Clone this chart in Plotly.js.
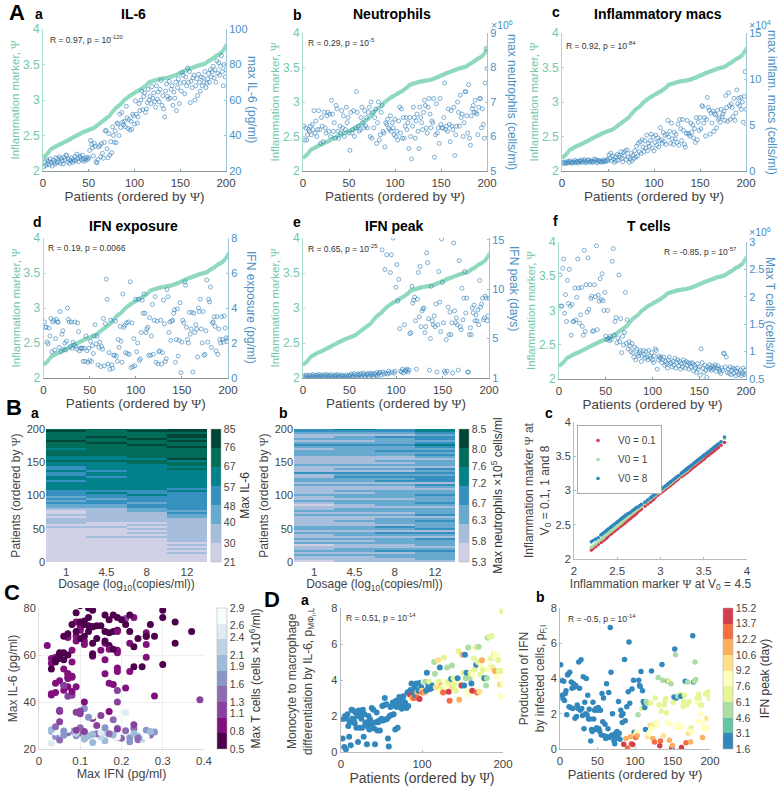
<!DOCTYPE html>
<html><head><meta charset="utf-8">
<script src="https://cdn.plot.ly/plotly-3.0.1.min.js"></script>
<style>html,body{margin:0;padding:0;background:#fff}</style></head><body>
<div id="chart" style="width:782px;height:786px"></div>
<script>
const psi=[2.20,2.21,2.22,2.23,2.25,2.26,2.28,2.30,2.31,2.32,2.32,2.33,2.34,2.35,2.35,2.36,2.37,2.37,2.38,2.38,
2.39,2.40,2.40,2.41,2.42,2.42,2.43,2.44,2.44,2.45,2.46,2.47,2.47,2.48,2.49,2.49,2.50,2.51,2.51,2.52,
2.53,2.53,2.54,2.55,2.55,2.56,2.56,2.57,2.57,2.58,2.58,2.59,2.59,2.60,2.60,2.61,2.62,2.63,2.64,2.65,
2.66,2.67,2.68,2.69,2.70,2.71,2.72,2.73,2.74,2.75,2.76,2.77,2.78,2.80,2.82,2.83,2.85,2.86,2.88,2.89,
2.90,2.91,2.92,2.93,2.94,2.96,2.97,2.99,3.00,3.01,3.02,3.03,3.04,3.05,3.06,3.07,3.08,3.08,3.09,3.10,
3.11,3.12,3.12,3.13,3.14,3.15,3.15,3.16,3.17,3.18,3.19,3.20,3.21,3.22,3.24,3.25,3.25,3.26,3.26,3.27,
3.27,3.27,3.28,3.28,3.29,3.29,3.29,3.30,3.30,3.30,3.30,3.31,3.31,3.31,3.31,3.31,3.32,3.32,3.32,3.33,
3.33,3.34,3.34,3.35,3.35,3.36,3.36,3.37,3.38,3.38,3.39,3.39,3.40,3.41,3.41,3.42,3.42,3.43,3.43,3.44,
3.44,3.45,3.45,3.46,3.46,3.47,3.47,3.48,3.48,3.49,3.49,3.49,3.50,3.50,3.50,3.51,3.51,3.52,3.53,3.54,
3.55,3.56,3.56,3.57,3.58,3.59,3.60,3.61,3.62,3.63,3.63,3.64,3.65,3.66,3.67,3.68,3.70,3.72,3.74,3.77];
const il6=[22.5,25.3,23.1,26.2,24.0,25.6,23.5,26.8,24.9,22.8,26.1,25.0,23.8,27.5,24.6,26.9,25.2,28.0,24.3,27.2,
25.8,23.9,27.6,26.3,29.0,28.7,25.1,26.5,24.2,25.9,27.3,24.8,26.4,25.5,28.2,26.0,29.5,27.1,25.3,28.4,
27.8,26.2,28.9,26.7,25.4,27.0,26.1,27.7,26.6,27.4,31.6,37.2,35.0,33.0,28.5,35.6,34.0,25.2,24.6,26.5,
33.5,34.3,28.0,35.5,30.0,27.2,36.1,42.5,42.9,32.5,27.5,41.0,29.0,36.5,30.3,44.9,40.0,36.2,42.6,36.0,
47.0,46.5,40.0,52.0,44.5,53.0,47.5,46.0,48.0,45.0,56.5,50.0,44.0,49.0,43.0,48.0,43.5,52.0,51.0,46.5,
59.5,52.0,47.0,50.5,58.0,54.0,60.0,65.0,54.5,62.0,64.0,53.0,55.0,58.5,66.0,60.0,62.0,58.0,67.5,61.0,
64.0,59.0,56.0,68.0,60.5,64.5,59.0,66.0,71.0,57.0,62.5,55.0,50.5,65.0,69.0,62.0,60.5,70.5,61.0,66.0,
68.0,57.0,64.5,61.0,70.0,54.0,67.0,72.0,58.0,69.5,65.0,75.5,74.0,70.0,63.5,73.0,68.0,78.0,70.0,76.0,
58.5,70.5,67.0,72.5,74.0,60.0,68.0,72.0,62.5,74.5,70.0,65.0,73.0,68.0,72.5,70.0,76.0,67.0,69.5,72.0,
75.0,70.0,77.0,73.0,76.0,79.0,72.5,77.0,70.0,82.0,75.0,81.0,74.0,79.0,85.0,76.0,68.0,80.0,73.0,77.0];
const neutro=[6.30,5.90,6.25,5.90,6.05,6.20,6.15,6.30,6.05,6.35,6.20,6.75,6.10,6.45,6.00,6.20,6.75,6.20,5.80,6.55,
6.30,5.85,6.70,6.25,6.10,6.60,6.70,6.15,6.65,6.00,7.05,6.65,6.15,6.40,5.95,6.90,6.80,6.15,5.95,6.30,
6.10,6.75,6.25,6.60,6.00,6.20,6.85,6.40,6.55,6.10,5.60,6.70,6.10,6.20,6.75,6.00,6.25,7.30,6.70,6.30,
6.15,6.20,6.55,6.85,6.40,6.25,6.75,6.30,6.55,6.25,6.70,6.85,6.00,7.00,5.95,6.70,6.25,6.55,6.80,5.80,
6.40,7.00,5.90,6.05,6.70,6.90,6.15,6.10,5.70,6.40,6.35,6.50,6.25,6.20,6.60,6.15,6.40,6.25,6.05,6.50,
6.00,6.15,5.90,6.45,6.85,6.10,6.80,5.95,6.55,5.95,6.30,6.55,6.20,6.40,5.65,6.55,6.00,5.35,6.30,6.85,
6.55,5.95,6.45,6.65,6.15,5.65,6.85,6.55,6.40,6.20,6.70,7.05,6.90,6.25,6.10,6.85,7.10,6.65,6.25,6.45,
6.40,7.10,5.40,6.05,6.95,6.10,6.25,5.80,7.10,6.35,6.25,6.25,6.55,7.55,6.20,6.30,6.15,6.80,6.35,5.85,
6.75,6.30,6.20,6.85,5.45,6.05,6.30,7.00,6.70,6.30,7.20,6.55,6.65,6.00,6.40,7.30,7.30,6.60,6.10,7.50,
5.95,5.75,6.60,6.80,6.90,6.70,7.05,6.70,6.65,6.05,6.85,7.10,7.10,6.25,6.80,6.35,5.95,7.55,8.55,7.97];
const inflamMacs=[0.85,0.95,0.80,1.00,0.90,0.85,1.05,0.95,1.10,0.90,0.85,1.00,0.95,1.15,0.90,1.05,1.00,0.85,1.10,1.00,
1.20,0.95,1.05,1.25,1.10,0.90,1.00,1.15,1.20,0.95,1.05,1.10,0.95,1.00,1.30,1.10,1.25,0.90,1.05,1.15,
1.00,1.10,0.95,1.05,1.20,1.00,1.10,1.05,1.25,1.15,1.75,1.40,1.95,1.10,1.60,1.30,0.95,1.55,1.10,1.80,
1.20,1.70,1.50,2.10,1.35,1.00,2.00,1.70,2.20,1.25,2.30,1.50,0.95,1.30,1.90,1.10,1.70,1.35,2.20,1.50,
2.70,1.60,3.00,2.10,3.20,1.90,3.40,2.60,2.10,3.30,2.50,3.90,2.20,3.00,2.70,3.30,4.00,2.50,3.70,2.20,
3.10,3.90,2.80,3.60,2.60,3.30,4.70,3.40,3.00,4.20,3.20,3.90,2.90,4.00,5.50,3.70,4.30,3.00,5.20,3.50,
2.90,4.20,3.50,4.00,3.10,5.10,2.80,5.60,4.60,3.30,5.60,4.40,2.90,2.60,4.10,5.50,4.10,4.00,3.80,5.20,
4.20,5.00,3.60,4.60,3.10,5.80,3.40,5.30,4.40,5.80,4.60,7.10,7.00,5.20,5.80,3.80,5.60,8.00,6.90,6.60,
4.00,6.30,5.20,6.50,4.30,6.20,6.10,4.70,6.60,5.60,5.80,5.30,6.70,5.90,6.20,6.50,5.50,8.20,6.90,5.40,
8.50,7.10,5.60,7.30,6.90,5.90,7.90,5.50,6.30,8.80,7.30,7.90,7.10,8.00,6.70,7.50,5.30,8.10,10.80,6.70];
const ifnExposure=[3.2,2.9,2.9,2.05,1.95,2.85,2.4,3.4,1.5,3.2,3.3,1.6,2.25,3.35,3.2,3.2,1.75,3.8,1.5,2.5,
2.7,1.65,2.0,1.6,2.1,4.0,3.35,3.2,1.8,3.2,1.7,2.05,1.9,3.2,1.8,1.65,3.15,2.65,1.55,1.7,
1.7,1.7,0.95,1.7,0.95,2.4,1.55,0.9,1.7,1.0,2.1,0.95,1.85,1.4,2.4,3.05,1.95,2.4,0.75,1.75,
2.05,0.65,1.8,1.65,3.4,0.7,3.1,5.65,4.5,0.8,1.45,0.5,3.3,0.75,0.55,1.3,1.3,3.25,1.25,0.95,
2.2,1.75,2.95,2.1,0.9,4.8,2.9,3.0,1.45,3.15,1.4,3.2,1.35,5.5,0.6,3.15,0.65,2.25,0.7,4.5,
1.5,2.0,4.5,1.0,1.1,2.6,4.45,3.7,4.8,3.7,2.6,2.8,2.9,1.3,3.45,1.3,2.4,4.2,1.35,3.3,
4.65,0.9,3.25,0.8,1.5,1.55,3.3,0.8,1.45,4.45,3.1,0.95,1.1,5.05,4.65,2.6,3.2,2.15,3.25,3.3,
3.7,3.9,0.9,2.2,3.95,1.25,2.15,4.3,0.3,2.05,3.3,3.15,5.5,5.3,2.9,2.2,2.0,3.75,2.5,2.8,
3.75,0.35,3.7,2.6,3.05,2.8,1.2,4.0,3.8,4.5,2.8,2.0,3.8,1.3,1.35,2.7,5.6,2.05,4.5,4.35,
5.2,1.75,3.15,3.2,3.5,2.95,1.55,3.5,1.35,2.8,2.2,2.0,3.5,2.2,2.05,3.55,2.85,2.3,2.1,2.25];
const ifnPeak=[1.20,1.05,1.30,1.10,1.25,1.00,1.15,1.30,1.05,1.20,1.35,1.10,1.25,1.05,1.30,1.15,1.35,1.10,1.20,1.30,
1.05,1.25,1.15,1.35,1.10,1.30,1.20,1.05,1.25,1.35,1.10,1.20,1.00,1.30,1.15,1.25,1.35,1.10,1.20,1.05,
1.30,1.15,1.25,1.00,1.20,1.10,1.30,1.05,1.25,1.15,1.30,1.40,1.10,1.25,1.45,1.05,1.35,1.15,1.40,1.00,
1.30,1.45,1.10,1.35,1.50,1.20,1.05,1.40,1.30,1.45,1.15,1.35,1.50,1.25,1.40,1.10,1.45,1.30,1.55,1.20,
1.4,1.5,1.6,1.3,14.0,1.6,1.4,12.0,1.5,13.5,1.4,1.7,1.5,11.7,13.5,1.6,15.2,1.5,1.7,10.2,
12.5,8.8,11.0,6.0,1.7,1.6,1.9,1.5,6.4,1.8,1.7,1.9,1.6,1.8,5.5,5.6,10.3,8.6,8.9,9.2,
6.8,1.9,9.0,11.7,7.2,12.3,6.2,7.8,8.0,8.1,5.6,6.2,13.7,12.7,7.0,1.8,5.0,10.3,6.8,6.4,
7.3,6.2,8.5,1.6,6.4,11.8,8.7,5.7,15.1,10.7,6.6,1.7,1.5,4.9,1.7,8.2,5.4,7.7,5.4,6.6,
1.5,14.7,7.8,6.6,7.1,6.4,1.8,12.9,6.2,5.9,10.1,6.9,9.1,11.8,7.6,9.1,1.6,1.6,5.4,6.1,
5.4,8.1,7.6,8.4,6.8,7.4,6.8,7.9,6.4,10.9,8.2,8.5,9.1,6.9,7.1,9.3,9.1,6.8,7.3,9.1];
const tCells=[2.40,1.83,1.83,2.52,2.69,1.70,2.04,1.55,2.30,1.88,2.50,1.83,1.30,1.86,1.55,1.55,2.16,1.58,1.99,2.69,
2.16,1.52,1.67,2.17,1.46,1.30,2.85,1.37,2.22,1.72,2.71,1.77,2.22,1.97,2.01,1.37,1.38,2.22,2.00,2.93,
1.40,2.03,1.92,2.33,1.95,2.42,1.93,1.75,2.08,1.28,1.22,1.75,1.24,1.20,1.28,1.22,2.65,2.88,1.30,1.55,
1.62,1.16,1.25,2.40,1.18,1.60,0.98,1.28,1.12,1.35,2.08,1.15,1.58,1.05,1.18,1.10,1.00,1.15,0.98,0.90,
1.08,0.85,1.05,0.95,0.92,0.98,1.02,0.82,0.92,1.02,0.95,0.88,1.00,0.90,0.85,1.02,0.92,0.88,0.98,0.85,
0.80,0.92,1.05,1.02,0.68,0.85,0.92,0.88,0.90,0.80,0.85,0.90,0.75,0.82,0.78,0.70,0.85,0.90,0.78,0.80,
0.72,0.82,0.75,0.88,0.70,0.80,0.85,0.74,0.82,0.68,0.78,0.72,0.85,0.80,0.70,0.82,0.75,0.80,0.68,0.78,
0.72,0.80,0.78,0.65,0.75,0.70,0.62,0.78,0.68,0.72,0.57,1.05,0.80,0.70,0.62,0.75,0.66,0.53,0.72,0.68,
0.76,0.70,0.66,0.74,0.68,0.72,0.76,0.64,0.70,0.74,0.68,0.64,0.60,0.70,0.66,0.97,0.96,0.72,0.90,0.62,
0.68,0.60,0.72,0.58,0.66,0.70,0.60,0.68,0.56,0.64,0.70,0.58,0.62,0.66,0.56,0.60,0.70,0.58,0.66,0.60];
const maxIFN=[.03,.04,.22,.06,.14,.09,.16,.10,.24,.13,.12,.19,.05,.03,.20,.07,.15,.26,.11,.04,
.18,.24,.08,.13,.10,.23,.19,.14,.25,.06,.09,.22,.17,.12,.03,.27,.04,.16,.11,.07,
.21,.13,.19,.09,.24,.15,.18,.06,.23,.11,.05,.11,.10,.13,.19,.09,.13,.26,.24,.17,
.12,.15,.09,.21,.14,.28,.05,.07,.08,.18,.27,.39,.16,.05,.23,.19,.11,.10,.28,.17,
.06,.09,.19,.07,.08,.19,.18,.21,.04,.06,.03,.07,.04,.05,.03,.17,.03,.16,.08,.07,
.13,.07,.06,.08,.06,.06,.05,.16,.19,.08,.02,.22,.23,.03,.09,.13,.15,.16,.07,.19,
.17,.04,.30,.09,.05,.11,.26,.16,.10,.04,.17,.25,.07,.22,.07,.19,.13,.10,.06,.11,
.06,.08,.26,.05,.12,.03,.14,.10,.04,.17,.13,.21,.09,.18,.23,.27,.11,.09,.16,.12,
.05,.19,.24,.15,.10,.07,.26,.13,.18,.11,.22,.33,.08,.28,.14,.19,.23,.10,.26,.13,
.20,.37,.16,.11,.19,.30,.12,.22,.09,.25,.17,.10,.33,.13,.19,.30,.26,.12,.21,.18];
const monoDiff=[1.85,.75,1.85,.28,2.0,.15,1.85,2.1,1.45,.85,1.65,.37,2.35,1.85,2.3,1.75,1.6,2.2,1.35,2.0,
.55,2.3,1.35,2.15,1.85,1.35,2.35,.85,2.1,1.6,1.65,.43,1.4,2.0,1.25,1.8,1.55,2.45,1.6,2.35,
1.3,.43,1.65,2.2,1.2,1.65,1.75,1.2,1.75,1.85,2.55,1.75,2.6,3.0,1.8,2.65,1.85,.75,.3,2.0,
2.5,2.05,2.55,2.75,2.1,2.6,1.25,2.85,2.5,1.35,2.8,3.05,2.6,2.85,2.4,2.95,3.1,2.5,2.75,2.5,
2.45,3.3,2.55,3.35,3.2,3.45,3.8,3.0,3.3,3.0,3.6,3.15,3.8,3.3,3.0,3.4,2.95,3.85,3.6,3.4,
3.3,3.9,3.3,3.9,3.4,4.4,3.5,3.7,3.9,3.5,3.6,3.55,3.7,3.65,5.0,4.35,3.6,3.9,3.85,5.1,
3.9,4.7,3.4,3.7,3.6,3.3,5.25,3.7,3.9,3.6,4.7,3.9,3.35,2.85,3.8,4.05,4.8,3.6,4.1,3.75,
3.9,3.4,4.0,4.1,5.6,2.9,3.8,3.7,3.7,5.4,4.4,3.7,5.4,4.1,4.4,3.4,5.8,3.2,4.1,4.4,
3.8,3.4,4.3,5.2,4.6,5.8,4.85,3.3,5.0,5.85,3.35,4.3,4.8,5.1,4.55,4.0,4.1,4.1,3.7,4.1,
6.35,4.6,6.4,4.8,5.2,6.45,4.7,5.4,5.45,4.5,5.45,4.2,5.3,5.1,4.5,3.75,3.1,4.5,7.8,3.8];
const ifnProduction=[4.78,3.9,3.05,2.85,3.85,2.75,3.15,3.3,1.95,4.2,4.25,2.4,4.36,2.35,3.8,3.45,2.3,3.7,3.5,1.75,
3.6,1.85,2.5,2.3,4.93,3.45,2.2,5.06,2.3,1.9,4.1,1.15,2.65,2.0,4.0,1.95,3.05,1.7,2.25,1.7,
.45,1.1,1.0,2.65,1.7,2.2,1.1,2.3,1.2,2.2,2.35,1.15,1.0,2.2,.8,3.15,1.55,2.9,.75,1.4,
.6,3.7,.7,1.15,3.2,.65,6.9,4.35,.8,2.0,.7,.45,.3,.9,.6,1.0,.75,2.7,.9,.55,
2.2,1.9,1.5,2.0,.27,5.08,1.6,.6,2.4,.05,3.25,6.07,2.6,.7,.3,3.4,.25,3.9,.95,.8,
.65,.95,.75,1.95,3.9,3.6,3.55,4.4,2.3,3.3,2.7,2.6,2.35,1.1,2.7,2.6,.7,.85,.95,1.35,
2.6,4.43,1.2,.6,1.4,.4,2.9,1.45,1.5,1.3,4.05,2.5,.18,.45,2.15,4.8,3.9,.75,2.5,2.7,
2.85,2.05,1.55,3.85,3.85,.5,1.4,3.7,.05,.2,2.65,2.95,5.67,5.35,2.9,1.2,3.0,1.4,3.05,3.1,
3.0,.08,1.25,2.4,2.7,3.05,3.85,.35,2.5,3.8,.9,2.7,1.05,.4,1.2,1.0,6.42,3.8,3.85,4.93,
3.95,2.7,2.9,1.6,3.1,2.9,2.5,2.0,2.5,.65,1.5,1.2,1.1,3.15,3.1,1.75,1.2,3.25,2.9,1.8];
const psiV01=[2.13,2.15,2.18,2.21,2.24,2.25,2.27,2.28,2.30,2.31,2.33,2.34,2.36,2.37,2.38,2.40,2.41,2.43,2.44,2.45,
2.47,2.48,2.49,2.50,2.51,2.52,2.53,2.54,2.56,2.58,2.60,2.62,2.64,2.66,2.69,2.71,2.73,2.77,2.80,2.83,
2.85,2.87,2.90,2.93,2.96,2.98,3.00,3.02,3.04,3.05,3.07,3.08,3.10,3.11,3.13,3.15,3.17,3.20,3.21,3.22,
3.23,3.24,3.25,3.25,3.26,3.26,3.27,3.27,3.28,3.28,3.29,3.30,3.31,3.32,3.34,3.35,3.36,3.37,3.38,3.39,
3.40,3.41,3.42,3.43,3.44,3.45,3.46,3.46,3.47,3.49,3.51,3.52,3.54,3.56,3.58,3.59,3.61,3.63,3.66,3.70];
const psiV1=[2.17,2.19,2.22,2.25,2.28,2.29,2.31,2.33,2.35,2.36,2.37,2.38,2.40,2.41,2.42,2.44,2.45,2.47,2.48,2.49,
2.51,2.52,2.53,2.55,2.56,2.57,2.58,2.59,2.61,2.63,2.65,2.67,2.69,2.71,2.73,2.75,2.77,2.81,2.84,2.87,
2.89,2.91,2.93,2.96,2.99,3.01,3.03,3.05,3.07,3.08,3.10,3.11,3.13,3.14,3.16,3.18,3.20,3.23,3.24,3.25,
3.26,3.27,3.28,3.28,3.29,3.29,3.30,3.30,3.31,3.32,3.33,3.34,3.35,3.36,3.38,3.39,3.40,3.41,3.42,3.43,
3.44,3.45,3.46,3.47,3.48,3.49,3.51,3.51,3.52,3.54,3.56,3.57,3.59,3.61,3.63,3.64,3.66,3.68,3.71,3.76];
const psiV8=[2.25,2.27,2.29,2.31,2.35,2.36,2.38,2.39,2.41,2.42,2.43,2.44,2.46,2.47,2.48,2.50,2.51,2.53,2.54,2.55,
2.57,2.58,2.59,2.60,2.61,2.62,2.63,2.64,2.66,2.67,2.69,2.71,2.73,2.75,2.76,2.78,2.80,2.83,2.86,2.89,
2.91,2.93,2.95,2.98,3.01,3.03,3.05,3.07,3.09,3.10,3.12,3.13,3.15,3.16,3.18,3.20,3.22,3.25,3.26,3.27,
3.28,3.29,3.30,3.30,3.31,3.31,3.32,3.32,3.33,3.33,3.34,3.35,3.36,3.37,3.39,3.40,3.41,3.42,3.43,3.44,
3.45,3.46,3.47,3.48,3.49,3.50,3.51,3.51,3.52,3.54,3.56,3.57,3.59,3.61,3.63,3.64,3.66,3.68,3.71,3.78];
const il6Dose1=[25,25,25,25,25,25,25,25,25,25,25,25,25,25,25,25,25,35,25,35,35,35,25,35,25,25,35,44,44,52,44,52,44,52,52,52,62,62,62,62,52,62,62,52,52,62,52,52,62,62,72,62,62,72,72,72,62,72,72,72,80,72,72,72,72,80,72];
const il6Dose45=[25,25,25,25,25,25,25,25,25,25,25,25,35,25,25,25,25,35,25,25,35,35,35,35,35,35,35,44,44,52,52,44,52,52,62,52,62,62,62,62,62,62,52,62,62,52,62,62,62,62,72,62,62,72,72,72,72,72,72,80,72,72,80,72,72,72,72];
const il6Dose8=[25,25,25,25,25,25,25,25,25,25,25,25,35,25,35,25,35,25,35,25,35,35,35,35,35,44,44,52,52,44,52,52,52,62,52,52,62,62,62,62,62,62,62,62,62,62,62,62,62,72,72,62,72,72,72,72,72,72,80,72,72,80,72,72,72,80,72];
const il6Dose12=[25,25,25,25,35,25,35,25,35,25,35,35,35,35,35,35,35,35,35,35,35,35,44,44,52,44,52,52,52,52,52,52,52,52,52,62,52,62,62,62,62,62,62,62,62,62,72,62,72,72,62,80,72,72,72,72,72,80,72,72,80,72,80,80,72,80,80];
const neuDose1=[5.5,6.0,6.0,6.5,6.0,6.5,6.0,6.0,5.5,6.5,6.0,6.5,6.0,6.0,6.5,6.0,6.5,6.5,6.0,6.0,6.0,6.0,6.0,6.5,6.0,6.5,6.0,6.0,5.5,6.0,6.5,6.0,6.0,6.5,6.0,6.0,6.0,6.0,6.5,6.0,6.5,6.5,6.0,6.0,7.0,6.0,6.0,6.0,6.5,6.0,6.0,6.0,6.0,6.5,6.5,6.5,6.0,6.5,7.0,6.5,6.0,6.5,6.0,6.0,6.5,7.0,7.0];
const neuDose45=[6.0,6.0,6.0,6.5,6.0,6.5,6.5,6.0,6.0,6.5,6.0,6.5,6.0,6.5,6.5,6.0,6.5,6.5,6.0,6.0,6.5,6.0,6.0,6.5,6.0,6.5,6.5,6.0,6.0,6.5,6.5,6.0,6.5,6.5,6.0,6.5,6.0,6.0,6.5,6.0,6.5,6.5,7.0,6.5,7.0,6.0,6.5,6.0,6.5,6.0,6.0,6.0,6.0,6.5,6.5,6.5,6.5,6.5,7.0,6.5,6.0,6.5,6.5,6.0,6.5,7.0,7.4];
const neuDose8=[6.0,6.0,6.5,6.5,6.0,7.0,6.5,6.0,6.0,6.5,6.5,6.5,6.0,6.5,7.0,6.0,6.5,7.0,6.0,6.5,6.5,6.5,6.0,6.5,6.0,6.5,6.5,6.0,6.5,6.5,6.5,6.0,6.5,6.5,6.5,6.5,6.0,6.0,6.5,6.0,7.0,6.5,7.0,6.5,7.0,6.0,6.5,6.0,6.5,6.0,6.5,6.0,6.0,6.5,6.5,7.0,6.5,6.5,7.0,6.5,6.5,6.5,7.0,6.0,6.5,7.0,7.0];
const neuDose12=[6.0,6.5,6.5,6.5,6.5,7.0,6.5,6.0,6.5,6.5,6.5,7.0,6.0,6.5,7.0,6.0,7.0,6.5,6.5,6.5,7.0,6.5,6.0,7.0,6.5,6.5,6.5,6.0,6.5,7.0,6.5,6.5,6.5,7.0,6.5,6.5,6.0,6.5,7.0,6.0,7.0,7.0,7.0,6.5,7.0,6.5,7.0,6.0,6.5,6.5,6.5,6.0,6.5,7.0,6.5,7.0,6.5,7.0,7.4,7.0,6.5,7.0,7.0,6.5,7.0,7.4,7.4];
const dosageLabels=['1','4.5','8','12'];
const il6Levels=[21,30,40,48,57,67,76,85];
const neuLevels=[5.3,5.8,6.3,6.7,7.2,7.6,8.0,8.5];
const tLevels=[0.5,0.8,1.1,1.3,1.6,1.9,2.1,2.4,2.6,2.9];
const peakLevels=[1.6,3.1,4.6,6.1,7.6,9.2,10.6,12.2,13.7,15.2];

const PuBuGn=['#d0d1e6','#a6bddb','#67a9cf','#3690c0','#02818a','#016c59','#014636'];
const BuPu=['#4d004b','#810f7c','#88419d','#8c6bb1','#8c96c6','#9ebcda','#bfd3e6','#e0ecf4','#f7fcfd'];
const Spectral=['#3288bd','#66c2a5','#abdda4','#e6f598','#ffffbf','#fee08b','#fdae61','#f46d43','#d53e4f'];
const steps=c=>c.flatMap((k,i)=>[[i/c.length,k],[(i+1)/c.length,k]]);

const W=782,H=786;
const GREEN='#74c8aa',BLUE='#4a90c4',GREY='#444444';
const P='<span style="font-family:Liberation Serif">Ψ</span>';
const FONT='Liberation Sans, Arial, sans-serif';
const patients=psi.map((_,i)=>i+1);
const layout={width:W,height:H,margin:{l:0,r:0,t:0,b:0},paper_bgcolor:'#fff',plot_bgcolor:'rgba(0,0,0,0)',
  font:{family:FONT,size:11,color:GREY},showlegend:true,annotations:[],
  legend:{x:577/W,y:1-425/H,xanchor:'left',yanchor:'top',bgcolor:'#fff',bordercolor:'#aaa',borderwidth:1,font:{size:10,color:GREY},itemwidth:30,entrywidth:30,entrywidthmode:'pixels',tracegroupgap:0}};
const traces=[];
const ref=n=>n===1?'':String(n);
function frame(n,f,xo,yo){
  layout['xaxis'+ref(n)]=Object.assign({domain:[f[0]/W,f[1]/W],anchor:'y'+ref(n),showgrid:false,zeroline:false,showline:true,linecolor:'#8a9a9a',linewidth:1,ticks:'inside',ticklen:2,tickcolor:'#8a9a9a',ticklabelstandoff:1,tickfont:{size:11.5,color:GREY}},xo);
  layout['yaxis'+ref(n)]=Object.assign({domain:[1-f[3]/H,1-f[2]/H],anchor:'x'+ref(n),showgrid:false,zeroline:false,showline:true,linecolor:'#8a9a9a',linewidth:1,ticks:'inside',ticklen:2,tickcolor:'#8a9a9a',tickfont:{size:11,color:GREY}},yo);
}
function note(px,py,text,o){layout.annotations.push(Object.assign({xref:'paper',yref:'paper',x:px/W,y:1-py/H,text,showarrow:false,xanchor:'left',yanchor:'middle',font:{size:8.5,color:'#333'}},o||{}));}
const xPat={range:[0,200],tickvals:[0,50,100,150,200],title:{text:'Patients (ordered by '+P+')',standoff:3,font:{size:13.5,color:GREY}}};

const topPanels=[
 {f:[43,226,29,171],vals:il6,rng:[20,100],tv:[20,40,60,80,100],title:'max IL-6 (pg/ml)',tp:[252,99]},
 {f:[303,487,33,171],vals:neutro,rng:[5,9],tv:[5,6,7,8,9],title:'max neutrophils (cells/ml)',exp:'6',ex:[491,24],tp:[512,102]},
 {f:[562,746,33,171],vals:inflamMacs,rng:[0,15],tv:[0,5,10,15],title:'max inflam. macs (cells/ml)',exp:'4',ex:[749,24],tp:[772,102]},
 {f:[43.5,228,238,378],vals:ifnExposure,rng:[0,8],tv:[0,2,4,6,8],title:'IFN exposure (pg/ml)',tp:[251,308]},
 {f:[303,489,238,378],vals:ifnPeak,rng:[1,15.2],tv:[1,5,10,15],title:'IFN peak (days)',tp:[514,288]},
 {f:[559,746,242,379],vals:tCells,rng:[0.5,3],tv:[0.5,1,1.5,2,2.5,3],title:'Max T cells (cells/ml)',exp:'6',ex:[749,232],tp:[770,313]}
];
topPanels.forEach((p,i)=>{
  const n=i+1,r=30+n;
  frame(n,p.f,xPat,{range:[2,4],tickvals:[2,2.5,3,3.5,4],ticktext:['2','2.5','3','3.5','4'],linecolor:'#a6dcc8',tickcolor:'#a6dcc8',tickfont:{size:12,color:GREEN},title:{text:'Inflammation marker, '+P,standoff:0,font:{size:11.5,color:GREEN}}});
  layout['yaxis'+r]={overlaying:'y'+ref(n),anchor:'x'+ref(n),side:'right',range:p.rng,tickvals:p.tv,showgrid:false,zeroline:false,showline:true,linecolor:'#9cc3d8',linewidth:1,ticks:'inside',ticklen:2,tickcolor:'#9cc3d8',tickfont:{size:11,color:BLUE}};
  note(p.tp[0],p.tp[1],p.title,{textangle:90,xanchor:'center',font:{size:12,color:BLUE}});
  traces.push({type:'scatter',mode:'markers',x:patients,y:psi,xaxis:'x'+ref(n),yaxis:'y'+ref(n),showlegend:false,marker:{size:3.4,color:'rgba(143,216,191,.7)',line:{width:.6,color:'#8fd8bf'}}});
  traces.push({type:'scatter',mode:'markers',x:patients,y:p.vals,xaxis:'x'+ref(n),yaxis:'y'+r,showlegend:false,marker:{symbol:'circle-open',size:4,color:'#3c86bd',line:{width:.65,color:'#3c86bd'}}});
  if(p.exp)note(p.ex[0]-2,p.ex[1],'×10<sup>'+p.exp+'</sup>',{font:{size:10.5,color:BLUE}});
});
const bold=(x,y,t,s,o)=>note(x,y,t,Object.assign({font:{size:s,color:'#000'}},o||{}));
[[[48,39],'R = 0.97, p = 10<sup>-120</sup>'],[[306,43],'R = 0.29, p = 10<sup>-5</sup>'],[[564,45],'R = 0.92, p = 10<sup>-84</sup>'],
 [[46,248],'R = 0.19, p = 0.0066'],[[306,249],'R = 0.65, p = 10<sup>-25</sup>'],[[662,251],'R = -0.85, p = 10<sup>-57</sup>'],
 [[344,617],'R = 0.51, p = 10<sup>-14</sup>'],[[566,618],'R = -0.5, p = 10<sup>-14</sup>']].forEach(a=>note(a[0][0],a[0][1],a[1]));
[['A',7,12],['B',4,407],['C',2,592],['D',262,599]].forEach(a=>bold(a[1],a[2],'<b>'+a[0]+'</b>',22));
[['a',33,14],['b',291,15],['c',550,12],['d',31,222],['e',291,222],['f',551,221],['a',29,413],['b',277,413],['c',543,413],['a',299,600],['b',534,597]].forEach(a=>bold(a[1],a[2],'<b>'+a[0]+'</b>',14));
[['IL-6',133,14],['Neutrophils',392,14],['Inflammatory macs',658,14],['IFN exposure',133,226],['IFN peak',394,226],['T cells',649,226]].forEach(a=>bold(a[1],a[2],'<b>'+a[0]+'</b>',14,{xanchor:'center'}));

function cbar(px,top,bot,levels,title){return {x:px/W,xanchor:'left',xpad:0,ypad:0,y:1-bot/H,yanchor:'bottom',len:(bot-top)/H,lenmode:'fraction',thickness:10,tickmode:'array',tickvals:levels,ticktext:levels.map(v=>v===8?'8.0':String(v)),ticks:'',tickfont:{size:10.5,color:GREY},outlinecolor:'#aaa',outlinewidth:.5,title:{text:title,side:'right',font:{size:12,color:'#333'}}};}
const rowsY=il6Dose1.map((_,i)=>3*i+1.5);
const zip=(a,b,c,d)=>a.map((_,i)=>[a[i],b[i],c[i],d[i]]);
const hx={type:'category',ticks:'',showline:false,title:{text:'Dosage (log<sub>10</sub>(copies/ml))',standoff:3,font:{size:12,color:GREY}}};
const hy={range:[0,200],tickvals:[0,50,100,150,200],ticks:'',showline:false,title:{text:'Patients (ordered by '+P+')',standoff:3,font:{size:12,color:GREY}}};
frame(7,[46,207,429,562],hx,hy);
traces.push({type:'heatmap',x:dosageLabels,y:rowsY,z:zip(il6Dose1,il6Dose45,il6Dose8,il6Dose12),xaxis:'x7',yaxis:'y7',zmin:21,zmax:85,colorscale:steps(PuBuGn),showscale:true,colorbar:cbar(211,429,562,il6Levels,'Max IL-6')});
frame(8,[294,455,429,562],hx,hy);
traces.push({type:'heatmap',x:dosageLabels,y:rowsY,z:zip(neuDose1,neuDose45,neuDose8,neuDose12),xaxis:'x8',yaxis:'y8',zmin:5.3,zmax:8.5,colorscale:steps(PuBuGn),showscale:true,colorbar:cbar(459,429,562,neuLevels,'Max neutrophils ×10<sup>5</sup> cells/ml')});

const psiEven=psi.filter((_,i)=>i%2===0);
const ct=[2,2.5,3,3.5,4],ctt=['2','2.5','3','3.5','4'];
frame(9,[574,747,422,559],{range:[2,4],tickvals:ct,ticktext:ctt,linecolor:'#bbb',tickcolor:'#bbb',title:{text:'Inflammation marker '+P+' at V<sub>0</sub> = 4.5',standoff:3,font:{size:12,color:GREY}}},{range:[2,4],tickvals:ct,ticktext:ctt,linecolor:'#bbb',tickcolor:'#bbb',title:{text:'Inflammation marker '+P+' at<br>V<sub>0</sub> = 0.1, 1 and 8',standoff:3,font:{size:12,color:GREY}}});
[['V0 = 0.1',psiV01,'#d73c50'],['V0 = 1',psiV1,'#a8dda4'],['V0 = 8',psiV8,'#2f86bd']].forEach(s=>traces.push({type:'scatter',mode:'markers',name:s[0],x:psiEven,y:s[1],xaxis:'x9',yaxis:'y9',marker:{size:3.6,color:s[2]}}));

frame(10,[39,204,608,749],{range:[0,0.4],tickvals:[0,.1,.2,.3,.4],ticktext:['0','0.1','0.2','0.3','0.4'],showgrid:true,gridcolor:'#efefef',linecolor:'#ddd',tickcolor:'#ddd',title:{text:'Max IFN (pg/ml)',standoff:3,font:{size:12.5,color:GREY}}},{range:[20,80],tickvals:[20,40,60,80],showgrid:true,gridcolor:'#efefef',linecolor:'#ddd',tickcolor:'#ddd',title:{text:'Max IL-6 (pg/ml)',standoff:3,font:{size:12,color:GREY}}});
traces.push({type:'scatter',mode:'markers',x:maxIFN,y:il6,xaxis:'x10',yaxis:'y10',showlegend:false,marker:{size:7,color:tCells,cmin:0.5,cmax:2.9,colorscale:steps(BuPu),showscale:true,colorbar:cbar(217,608,749,tLevels,'Max T cells (cells ×10<sup>6</sup>/ml)')}});

frame(11,[341,503,608,752],{range:[0,200],tickvals:[0,100,200],linecolor:'#bbb',tickcolor:'#bbb',title:{text:'Patients (ordered by '+P+')',standoff:3,font:{size:14,color:GREY}}},{range:[0,8],tickvals:[0,2,4,6,8],linecolor:'#bbb',linewidth:1.5,tickcolor:'#bbb'});
note(301,681,'Monocyte to macrophage<br>differentiation by IL-6, p<sub>MΦ<sub>I</sub>,L</sub>',{textangle:-90,xanchor:'center',font:{size:12,color:GREY}});
traces.push({type:'scatter',mode:'markers',x:patients,y:monoDiff,xaxis:'x11',yaxis:'y11',showlegend:false,marker:{size:6,color:ifnPeak,cmin:1.6,cmax:15.2,colorscale:steps(Spectral),showscale:false}});

frame(12,[560,710,608,749],{range:[0,200],tickvals:[0,50,100,150,200],linecolor:'#bbb',tickcolor:'#bbb',title:{text:'Patients (ordered by '+P+')',standoff:3,font:{size:13,color:GREY}}},{range:[0,8],tickvals:[0,2,4,6,8],linecolor:'#bbb',tickcolor:'#bbb',title:{text:'Production of IFN<br>by infected cells, p<sub>F,I</sub>',standoff:3,font:{size:12,color:GREY}}});
traces.push({type:'scatter',mode:'markers',x:patients,y:ifnProduction,xaxis:'x12',yaxis:'y12',showlegend:false,marker:{size:5.5,color:ifnPeak,cmin:1.6,cmax:15.2,colorscale:steps(Spectral),showscale:true,colorbar:cbar(723,608,749,peakLevels,'IFN peak (day)')}});

Plotly.newPlot('chart',traces,layout,{displayModeBar:false,staticPlot:true});
</script></body></html>
